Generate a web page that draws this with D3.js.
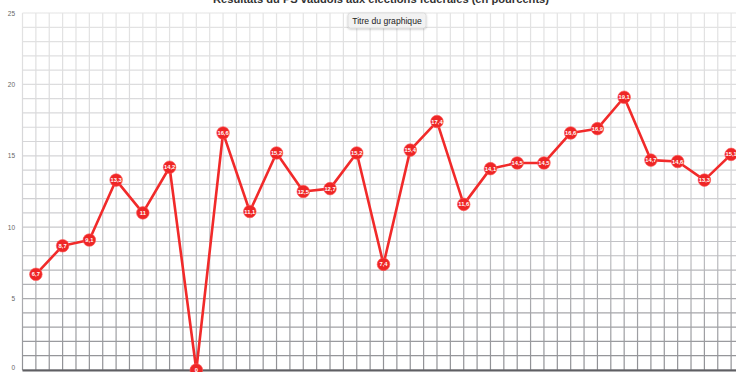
<!DOCTYPE html>
<html><head><meta charset="utf-8">
<script src="https://cdn.jsdelivr.net/npm/d3@7"></script>
<style>
html,body{margin:0;padding:0;background:#fff;overflow:hidden;}
svg{display:block;font-family:"Liberation Sans",Arial,sans-serif;}
</style></head>
<body>
<svg id="c" width="736" height="372"></svg>
<script>
const title = "Résultats du PS vaudois aux élections fédérales (en pourcents)";
const tooltipText = "Titre du graphique";
const years = ["1919","1922","1925","1928","1931","1935","1939","1943","1947","1951","1955","1959","1963","1967","1971","1975","1979","1983","1987","1991","1995","1999","2003","2007","2011","2015","2019"];
const values = [6.7,8.7,9.1,13.3,11,14.2,0,16.6,11.1,15.2,12.5,12.7,15.2,7.4,15.4,17.4,11.6,14.1,14.5,14.5,16.6,16.9,19.1,14.7,14.6,13.3,15.1];
const yTicks = [0,5,10,15,20,25];

const svg = d3.select("#c");
const pLeft = 22.5, pRight = 744.5, pTop = 13, pBottom = 370;

const x = d3.scaleBand().domain(years).range([pLeft, pRight]).paddingInner(0).paddingOuter(0);
const y = d3.scaleLinear().domain([0,25]).range([pBottom, pTop]);

const defs = svg.append("defs");
const g1 = defs.append("linearGradient").attr("id","gridGrad")
  .attr("gradientUnits","userSpaceOnUse").attr("x1",0).attr("y1",pTop).attr("x2",0).attr("y2",pBottom);
g1.append("stop").attr("offset","0%").attr("stop-color","#e4e4e4");
g1.append("stop").attr("offset","55%").attr("stop-color","#cfcfd2");
g1.append("stop").attr("offset","100%").attr("stop-color","#8f9094");
const flt = defs.append("filter").attr("id","sh").attr("x","-20%").attr("y","-40%").attr("width","140%").attr("height","180%");
flt.append("feDropShadow").attr("dx",0).attr("dy",1).attr("stdDeviation",1.2).attr("flood-color","#000").attr("flood-opacity",0.25);

// horizontal grid (every unit)
const hLines = d3.range(0,26);
svg.append("g").selectAll("line").data(hLines).join("line")
  .attr("x1",pLeft).attr("x2",pRight)
  .attr("y1",d=>y(d)).attr("y2",d=>y(d))
  .attr("stroke","url(#gridGrad)").attr("stroke-width",1.2);

// vertical grid (band edges and centers)
const vPos = [];
years.forEach(yr=>{ vPos.push(x(yr)); vPos.push(x(yr)+x.bandwidth()/2); });
vPos.push(pRight);
svg.append("g").selectAll("line").data(vPos).join("line")
  .attr("x1",d=>d).attr("x2",d=>d)
  .attr("y1",pTop).attr("y2",pBottom)
  .attr("stroke","url(#gridGrad)").attr("stroke-width",1.2);

// baseline
svg.append("line").attr("x1",pLeft).attr("x2",pRight).attr("y1",y(0)+0.5).attr("y2",y(0)+0.5)
  .attr("stroke","#5f5f63").attr("stroke-width",2);

// y axis labels
const yAxis = d3.axisLeft(y).tickValues(yTicks).tickSize(0).tickPadding(0);
const ya = svg.append("g").attr("transform",`translate(15,0)`).call(yAxis);
ya.select(".domain").remove();
ya.selectAll("text").attr("font-size",6.5).attr("fill","#666").attr("font-family","Liberation Sans, Arial, sans-serif");
ya.selectAll(".tick").filter(d=>d===0).select("text").attr("dy","-0.1em");

// line
const cx = d => x(d.year)+x.bandwidth()/2;
const data = years.map((yr,i)=>({year:yr, v:values[i]}));
svg.append("path").datum(data)
  .attr("fill","none").attr("stroke","#f12a2a").attr("stroke-width",2.6)
  .attr("stroke-linejoin","round")
  .attr("d", d3.line().x(cx).y(d=>y(d.v)));

// markers
const mk = svg.append("g").selectAll("g").data(data).join("g")
  .attr("transform",d=>`translate(${cx(d)},${y(d.v)})`);
mk.append("circle").attr("r",6.3).attr("fill","#ee2626").attr("stroke","#f55").attr("stroke-width",0.6);
mk.append("text").attr("text-anchor","middle").attr("dy","0.35em")
  .attr("font-size",5.8).attr("font-weight","bold").attr("fill","#fff")
  .text(d=>String(d.v).replace(".",","));

// title (cut off at top, as in reference)
svg.append("text").attr("x",381).attr("y",2.5).attr("text-anchor","middle")
  .attr("font-size",11).attr("font-weight","bold").attr("fill","#333")
  .attr("textLength",336).attr("lengthAdjust","spacingAndGlyphs")
  .text(title);

// tooltip
const tt = svg.append("g").attr("transform","translate(348,13)");
tt.append("rect").attr("width",78).attr("height",15).attr("rx",2.5)
  .attr("fill","#f2f2f2").attr("stroke","#d0d0d0").attr("stroke-width",0.6).attr("filter","url(#sh)");
tt.append("text").attr("x",39).attr("y",10.6).attr("text-anchor","middle")
  .attr("font-size",8.6).attr("fill","#222").text(tooltipText);
</script>
</body></html>
